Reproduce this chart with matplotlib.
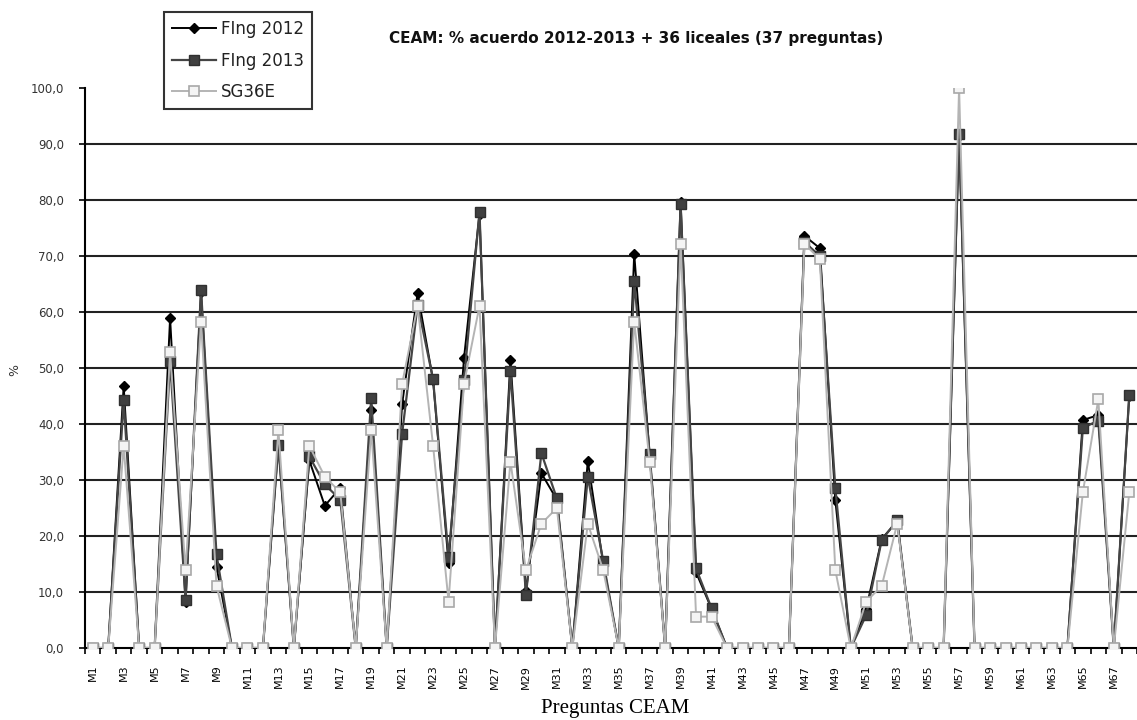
import matplotlib
matplotlib.use("Agg")
import matplotlib.pyplot as plt
from matplotlib.ticker import FixedLocator, FuncFormatter

categories = [f"M{i}" for i in range(1, 69)]

fing_2012 = [0, 0, 46.8, 0, 0, 58.9, 8.2, 63.5, 14.5, 0,
             0, 0, 36.4, 0, 33.5, 25.4, 28.6, 0, 42.5, 0,
             43.6, 63.4, 47.8, 15.1, 51.8, 77.5, 0, 51.4, 10.1, 31.2,
             26.5, 0, 33.4, 15.0, 0, 70.4, 34.4, 0, 79.6, 13.5,
             7.0, 0, 0, 0, 0, 0, 73.6, 71.4, 26.4, 0,
             7.0, 19.5, 22.6, 0, 0, 0, 91.5, 0, 0, 0,
             0, 0, 0, 0, 40.7, 41.6, 0, 45.0]

fing_2013 = [0, 0, 44.2, 0, 0, 51.2, 8.6, 64.0, 16.7, 0,
             0, 0, 36.2, 0, 34.2, 29.2, 26.5, 0, 44.7, 0,
             38.3, 61.3, 48.0, 16.3, 47.8, 77.9, 0, 49.5, 9.5, 34.8,
             26.7, 0, 30.6, 15.5, 0, 65.6, 34.6, 0, 79.3, 14.2,
             7.1, 0, 0, 0, 0, 0, 72.5, 70.0, 28.6, 0,
             5.9, 19.3, 22.8, 0, 0, 0, 91.8, 0, 0, 0,
             0, 0, 0, 0, 39.3, 40.6, 0, 45.2]

sg36e = [0, 0, 36.1, 0, 0, 52.8, 13.9, 58.3, 11.1, 0,
         0, 0, 38.9, 0, 36.1, 30.6, 27.8, 0, 38.9, 0,
         47.2, 61.1, 36.1, 8.3, 47.2, 61.1, 0, 33.3, 13.9, 22.2,
         25.0, 0, 22.2, 13.9, 0, 58.3, 33.3, 0, 72.2, 5.6,
         5.6, 0, 0, 0, 0, 0, 72.2, 69.4, 13.9, 0,
         8.3, 11.1, 22.2, 0, 0, 0, 100.0, 0, 0, 0,
         0, 0, 0, 0, 27.8, 44.4, 0, 27.8]

series_labels = ["FIng 2012", "FIng 2013", "SG36E"]
title = "CEAM: % acuerdo 2012-2013 + 36 liceales (37 preguntas)"
x_label = "Preguntas CEAM"
y_label = "%"
y_ticks = [0, 10, 20, 30, 40, 50, 60, 70, 80, 90, 100]

plt.rcParams['font.family'] = ['DejaVu Sans']

fig = plt.figure(figsize=(11.37, 7.2), dpi=100)
ax = fig.add_axes([85 / 1137, 72 / 720, 1 - 85 / 1137, 560 / 720])

x = list(range(1, len(categories) + 1))

l1, = ax.plot(x, fing_2012, color='#000000', lw=1.4, marker='D', ms=5.5,
              mfc='#000000', mec='#000000', zorder=3, label=series_labels[0])
l2, = ax.plot(x, fing_2013, color='#454545', lw=1.6, marker='s', ms=7.5,
              mfc='#404040', mec='#303030', zorder=4, label=series_labels[1])
l3, = ax.plot(x, sg36e, color='#b4b4b4', lw=1.4, marker='s', ms=7.5,
              mfc='#f4f4f4', mec='#a8a8a8', mew=1.2, zorder=5, label=series_labels[2])

ax.set_xlim(0.5, 68.07)
ax.set_ylim(0, 100)

for v in y_ticks[1:-1]:
    ax.axhline(v, color='#222222', lw=1.5, zorder=1)

ax.spines['top'].set_visible(False)
ax.spines['right'].set_visible(False)
ax.spines['left'].set_linewidth(1.5)
ax.spines['bottom'].set_linewidth(1.5)

ax.yaxis.set_major_locator(FixedLocator(y_ticks))
ax.yaxis.set_major_formatter(FuncFormatter(lambda v, p: f"{v:.1f}".replace('.', ',')))
ax.tick_params(axis='y', direction='out', length=4, width=1.2, pad=11,
               labelsize=8.5, colors='#000000', labelcolor='#333333')

ax.set_xticks(x[::2])
ax.set_xticklabels(categories[::2], rotation=90, fontsize=8)
ax.set_xticks([i + 0.5 for i in range(0, 69)], minor=True)
ax.tick_params(axis='x', which='major', length=0, pad=12)
ax.tick_params(axis='x', which='minor', direction='out', length=4, width=1.2)

fig.text(15 / 1137, 1 - 370 / 720, y_label, rotation=90, ha='center', va='center',
         fontsize=9, color='#333333')
fig.text(615 / 1137, 1 - 709 / 720, x_label, ha='center', va='center',
         fontsize=15, family=['Liberation Serif', 'DejaVu Serif'])

fig.text(636 / 1137, 1 - 38 / 720, title, ha='center', va='center',
         fontsize=11, fontweight='bold', color='#111111')

leg = fig.legend(handles=[l1, l2, l3], loc='upper left',
                 bbox_to_anchor=(164 / 1137, 1 - 12 / 720),
                 fontsize=12, frameon=True, fancybox=False,
                 edgecolor='#000000', handlelength=2.6, labelspacing=0.8,
                 borderpad=0.5, handletextpad=0.3, borderaxespad=0)
leg.get_frame().set_linewidth(1.5)
for t in leg.get_texts():
    t.set_color('#222222')

fig.savefig("out.png", dpi=100)
